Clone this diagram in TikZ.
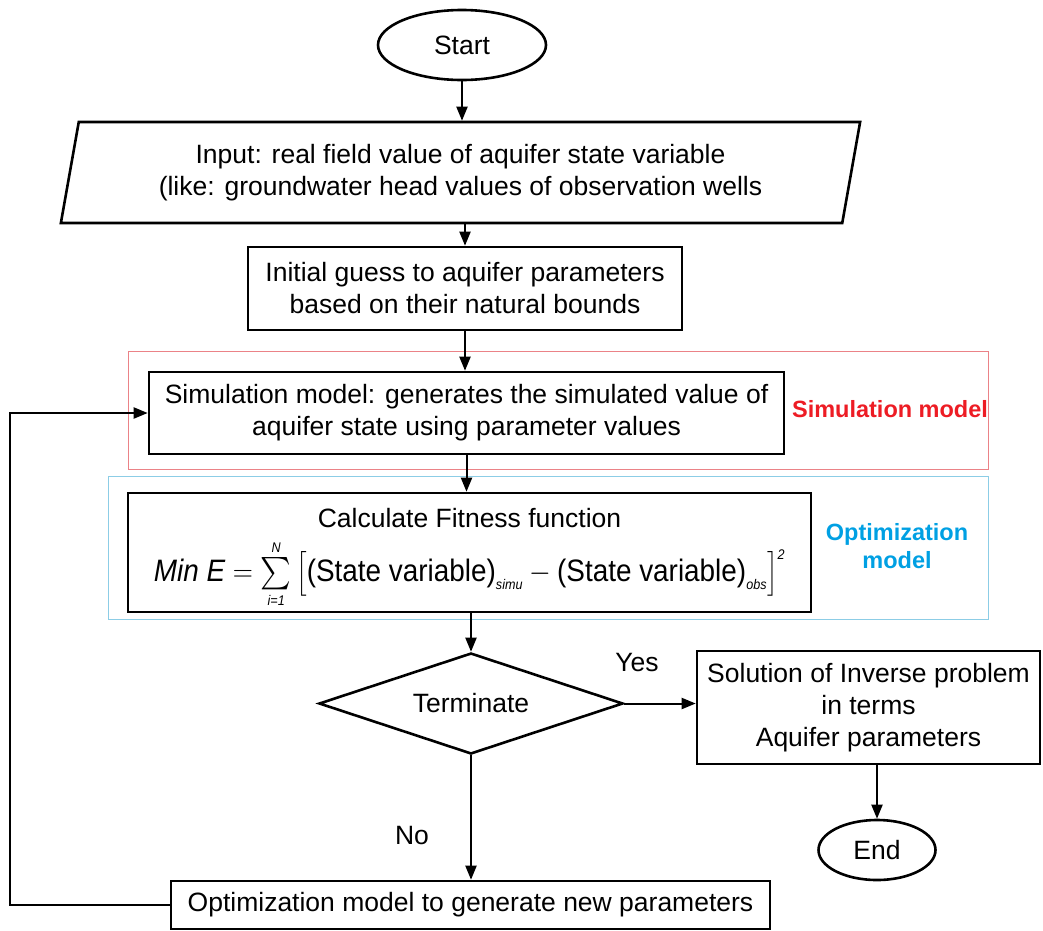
\RequirePackage{fix-cm}
\documentclass[tikz,border=0pt]{standalone}
\usepackage{amsmath}
\usepackage{graphicx}
\usepackage{fontspec}
\setmainfont{Liberation Sans}
\usetikzlibrary{shapes.geometric,arrows.meta,positioning}
\definecolor{simred}{RGB}{237,28,36}
\definecolor{simframe}{RGB}{235,130,135}
\definecolor{optblue}{RGB}{0,160,227}
\definecolor{optframe}{RGB}{140,205,230}
\newcommand{\tinyit}[1]{\text{\fontsize{14}{14}\selectfont\itshape #1}}
\newcommand{\bigsum}{\mathop{\vcenter{\hbox{\scalebox{1.3}{$\sum$}}}}\limits}
\begin{document}
\begin{tikzpicture}[x=1pt,y=-1pt,
    every node/.style={font=\fontsize{26.5}{32}\selectfont, align=center, inner sep=0pt},
    box/.style={draw, line width=2.6pt},
    arr/.style={line width=2pt, -{Triangle[length=14pt,width=11pt]}},
    frame/.style={line width=1pt},
    tag/.style={font=\fontsize{23.5}{28}\selectfont\bfseries}]
  \useasboundingbox (0,0) rectangle (1043,930);
  % model frames
  \draw[frame, simframe] (128,351) rectangle (988,469);
  \draw[frame, optframe] (108,476) rectangle (988,619);
  \node[tag, text=simred] (simlab) at (890,409) {Simulation model};
  \node[tag, text=optblue] (optlab) at (897,546) {Optimization\\model};
  % flow
  \node[box, ellipse, minimum width=168pt, minimum height=70pt] (start) at (462,45) {Start};
  \node[box, trapezium, trapezium left angle=76, trapezium right angle=104, trapezium stretches=true,
        minimum width=805pt, minimum height=101pt] (input) at (460.5,172.5)
        {Input: real field value of aquifer state variable\\(like: groundwater head values of observation wells};
  \node[box, minimum width=434pt, minimum height=83pt] (guess) at (465,288.5)
        {Initial guess to aquifer parameters\\based on their natural bounds};
  \node[box, minimum width=635pt, minimum height=82pt] (sim) at (466.5,413)
        {Simulation model: generates the simulated value of\\aquifer state using parameter values};
  \node[box, minimum width=683pt, minimum height=119pt] (fitness) at (469.5,552.5)
        {\rule{0pt}{30pt}Calculate Fitness function\\[12pt]
         \scalebox{0.9}[1]{\fontsize{31}{36}\selectfont
         $\textit{Min E} = \bigsum_{\tinyit{i=1}}^{\tinyit{N}}\big[\text{(State variable)}_{\tinyit{simu}} - \text{(State variable)}_{\tinyit{obs}}\big]^{\tinyit{2}}$}};
  \node[box, diamond, aspect=3, minimum width=304pt, minimum height=101pt] (term) at (471,703.5) {Terminate};
  \node[box, minimum width=343pt, minimum height=113pt] (solution) at (868.5,707.5)
        {Solution of Inverse problem\\in terms\\Aquifer parameters};
  \node[box, ellipse, minimum width=117pt, minimum height=60pt] (finish) at (877,850) {End};
  \node[box, minimum width=599pt, minimum height=48pt] (newpar) at (470.5,905)
        {Optimization model to generate new parameters};
  \node (yes) at (637,662) {Yes};
  \node (no) at (412,835) {No};
  \coordinate (loop) at (10,907);
  % connectors
  \draw[arr] (start.south) -- (start.south |- input.north);
  \draw[arr] (guess.north |- input.south) -- (guess.north);
  \draw[arr] (guess.south) -- (guess.south |- sim.north);
  \draw[arr] (sim.south) -- (sim.south |- fitness.north);
  \draw[arr] (term.north |- fitness.south) -- (term.north);
  \draw[arr] (term.east) -- (term.east -| solution.west);
  \draw[arr] (term.south) -- (term.south |- newpar.north);
  \draw[arr] (finish.north |- solution.south) -- (finish.north);
  \draw[arr] (newpar.west) -- (newpar.west -| loop) |- (sim.west);
\end{tikzpicture}
\end{document}
